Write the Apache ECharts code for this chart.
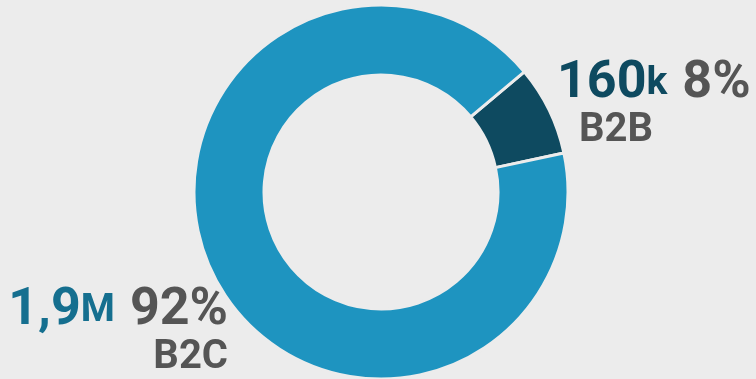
<!DOCTYPE html>
<html><head><meta charset="utf-8">
<script src="https://cdn.jsdelivr.net/npm/echarts@6/dist/echarts.min.js"></script>
<style>html,body{margin:0;padding:0;background:#ececec}#c{width:756px;height:379px}</style>
</head><body><div id="c"></div>
<script>
const categories = ['B2B', 'B2C'];
const values = [160000, 1900000];
const valueLabels = [['160', 'k'], ['1,9', 'M']];
const percentLabels = ['8%', '92%'];
const colors = ['#0e4a60', '#1e94c0'];
const valueColors = ['#0e4a60', '#156f8f'];

const chart = echarts.init(document.getElementById('c'));
const FONT = 'Roboto';
chart.setOption({
  backgroundColor: '#ececec',
  animation: false,
  series: [{
    type: 'pie',
    center: [381, 192],
    radius: [117, 187],
    startAngle: 40,
    clockwise: true,
    itemStyle: { borderColor: '#ececec', borderWidth: 3 },
    labelLine: { show: false },
    data: categories.map((c, i) => ({
      name: c,
      value: values[i],
      itemStyle: { color: colors[i] },
      label: {
        align: i === 0 ? 'left' : 'right',
        rich: {
          v: { fontFamily: FONT, fontWeight: 'bold', fontSize: 52, color: valueColors[i], lineHeight: 50 },
          u: { fontFamily: FONT, fontWeight: 'bold', fontSize: 39, color: valueColors[i], lineHeight: 50 },
          p: { fontFamily: FONT, fontWeight: 'bold', fontSize: 52, color: '#555555', lineHeight: 50, padding: [0, 0, 0, 15] },
          n: { fontFamily: FONT, fontWeight: 'bold', fontSize: 40, color: '#555555', lineHeight: 44,
               padding: i === 0 ? [0, 0, 0, 22] : 0 }
        }
      }
    })),
    label: {
      show: true,
      position: 'outside',
      overflow: 'none',
      width: 400,
      formatter: p => {
        const i = p.dataIndex;
        return '{v|' + valueLabels[i][0] + '}{u|' + valueLabels[i][1] + '}{p|' + percentLabels[i] + '}\n{n|' + categories[i] + '}';
      }
    },
    labelLayout: p => p.dataIndex === 0
      ? { x: 557, y: 59, align: 'left', verticalAlign: 'top' }
      : { x: 228, y: 286, align: 'right', verticalAlign: 'top' }
  }]
});
</script></body></html>
